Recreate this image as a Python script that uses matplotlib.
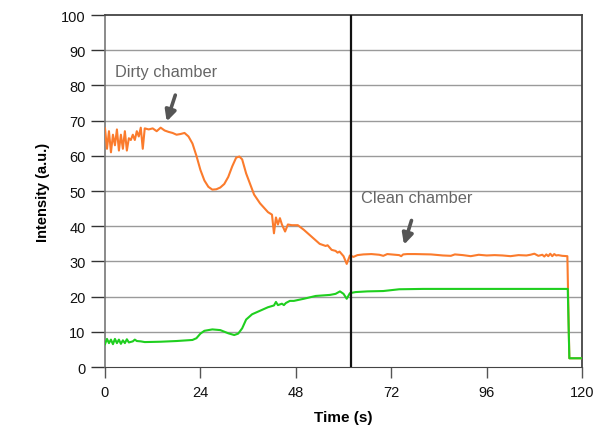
import matplotlib
matplotlib.use("Agg")
import matplotlib.pyplot as plt

plt.rcParams['font.family'] = ['Liberation Sans', 'DejaVu Sans']

# Orange series (dirty -> clean chamber)
orange_t = [0, 0.5, 1, 1.5, 2, 2.5, 3, 3.5, 4, 4.5, 5, 5.5, 6, 6.5, 7, 7.5, 8, 8.5, 9, 9.5,
            10, 11, 12, 13, 14, 15, 16, 17, 18, 19, 20, 21, 22, 23, 24, 25, 26, 27, 28, 29,
            30, 31, 32, 33, 33.8, 34.5, 35.5, 36.5, 37.5, 39, 41, 42, 42.5, 43, 43.5, 44, 44.5,
            45.3, 46, 47, 48.5, 50, 52, 54, 55.5, 56, 57, 58, 58.5, 59, 60, 60.8, 61.6, 62.5,
            63.5, 65, 67, 69, 70, 71, 72, 74, 74.5, 75, 76, 78, 82, 85, 87, 88, 90, 92, 94, 96,
            98, 100, 102, 104, 106, 107, 108, 109, 110, 110.5, 111, 111.5, 112, 112.5, 113,
            113.5, 114, 115, 116.3, 116.8, 117.2, 120]
orange_y = [67.8, 62, 67, 61, 66, 63, 67.5, 61.5, 66, 62, 67, 61.5, 65, 64.5, 66, 64.5, 67, 65.5, 68, 62,
            67.8, 67.5, 67.8, 67, 68, 67.2, 66.8, 66.5, 66, 66.2, 66.5, 65.5, 63.5, 60, 56, 53, 51.2, 50.4, 50.5, 51,
            52, 54, 57, 59.5, 59.8, 59, 55, 52, 49, 46.5, 44, 43.3, 38, 42.5, 40.5, 42.3, 40.5,
            38.5, 40.5, 40.3, 40.3, 39, 37, 35, 34.4, 34.6, 33.3, 33, 32.5, 32.8, 31.5, 29.3, 31.7, 31.3,
            31.8, 32, 32.1, 31.9, 31.6, 32.1, 32.0, 31.8, 31.5, 32.0, 32.1, 32.1, 32.0, 31.7, 31.6, 32.0, 31.8, 31.5, 31.9, 31.7,
            31.8, 31.7, 31.5, 31.8, 31.7, 31.9, 32.2, 31.6, 31.9, 31.4, 32.0, 31.5, 32.2, 31.5, 32.1,
            31.7, 31.8, 31.6, 31.5, 2.5, 2.5, 2.5]

# Green series
green_t = [0, 0.5, 1, 1.5, 2, 2.5, 3, 3.5, 4, 4.5, 5, 5.5, 6, 7, 7.5, 8, 9, 10, 14, 18, 22,
           23, 24, 25, 27, 29, 31, 32.5, 33.5, 34.5, 35.5, 37, 39, 41, 42.5, 43, 43.5, 44.5, 45,
           45.5, 46.5, 47.5, 50, 53, 56.6, 58, 59.1, 60, 60.8, 61.6, 63, 66, 70, 74, 80, 90,
           100, 110, 116.4, 116.8, 117.2, 120]
green_y = [6.5, 8, 6.8, 7.8, 6.5, 8, 6.8, 7.8, 6.6, 7.6, 6.8, 7.9, 7.0, 7.3, 7.8, 7.4, 7.3, 7.1, 7.2, 7.4, 7.7,
           8.2, 9.5, 10.3, 10.7, 10.5, 9.6, 9.1, 9.5, 11, 13.5, 15, 16, 17, 17.5, 18.5, 17.6, 18, 17.6,
           18.2, 18.8, 18.8, 19.4, 20.2, 20.5, 20.8, 21.5, 20.8, 19.4, 21, 21.3, 21.5, 21.6, 22.1, 22.2, 22.2,
           22.2, 22.2, 22.2, 2.5, 2.5, 2.5]

x_ticks = [0, 24, 48, 72, 96, 120]
y_ticks = [0, 10, 20, 30, 40, 50, 60, 70, 80, 90, 100]
switch_time = 62

fig = plt.figure(figsize=(6.14, 4.27), dpi=100)
ax = fig.add_axes([0.171, 0.138, 0.777, 0.8245])

ax.set_xlim(0, 120)
ax.set_ylim(0, 100)
for y in y_ticks[1:-1]:
    ax.axhline(y, color='#9a9a9a', lw=1, zorder=1)

ax.plot(orange_t, orange_y, color='#fb7b2c', lw=1.5, zorder=3)
ax.plot(green_t, green_y, color='#1fcf1f', lw=1.5, zorder=3)
ax.axvline(switch_time, color='#111111', lw=1.6, zorder=4)

ax.set_xticks(x_ticks)
ax.set_yticks(y_ticks)
ax.tick_params(axis='y', length=10, width=1, color='#333333', labelsize=10.5, pad=4)
ax.tick_params(axis='x', length=8, width=1, color='#555555', labelsize=10.5, pad=5)
for lab in ax.get_xticklabels() + ax.get_yticklabels():
    lab.set_color('#111111')

ax.spines['left'].set_color('#777777')
ax.spines['left'].set_linewidth(1.2)
ax.spines['bottom'].set_color('#444444')
ax.spines['top'].set_color('#444444')
ax.spines['top'].set_linewidth(1.3)
ax.spines['right'].set_color('#444444')
ax.spines['right'].set_linewidth(1.3)

ax.set_xlabel('Time (s)', fontsize=11, fontweight='bold', labelpad=8)
ax.set_ylabel('Intensity (a.u.)', fontsize=10.5, fontweight='bold', labelpad=8)

ax.text(2.5, 84, 'Dirty chamber', fontsize=11.8, color='#666666', va='center', ha='left')
ax.annotate('', xy=(15.3, 69.0), xytext=(17.9, 78.0),
            arrowprops=dict(arrowstyle='-|>', color='#555555', lw=2.6, mutation_scale=16))
ax.text(64.4, 48.2, 'Clean chamber', fontsize=11.8, color='#666666', va='center', ha='left')
ax.annotate('', xy=(75.0, 34.0), xytext=(77.3, 42.4),
            arrowprops=dict(arrowstyle='-|>', color='#555555', lw=2.6, mutation_scale=16))

fig.savefig('out.png', dpi=100)
